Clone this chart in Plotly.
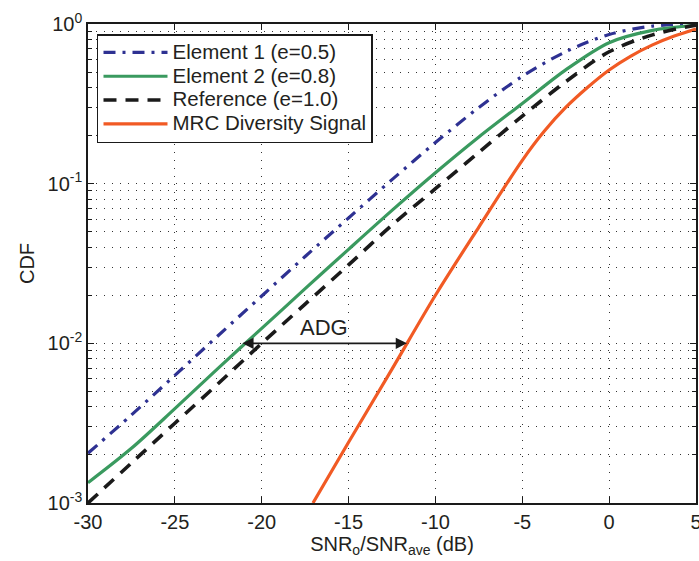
import plotly.graph_objects as go
import math

# ---- data ----
snr_db = [-30, -27.5, -25, -22.5, -20, -17.5, -15, -12.5, -10, -7.5, -5, -2.5, 0, 2.5, 5]
cdf_element1 = [0.00205, 0.00356, 0.0063, 0.0112, 0.0198, 0.035, 0.061, 0.106, 0.181, 0.30, 0.47, 0.67, 0.86, 0.97, 0.998]
cdf_element2 = [0.00134, 0.0022, 0.0039, 0.0070, 0.0124, 0.022, 0.0388, 0.068, 0.117, 0.196, 0.318, 0.516, 0.764, 0.912, 0.982]
cdf_reference = [0.0010, 0.00178, 0.00316, 0.0056, 0.0100, 0.0176, 0.031, 0.055, 0.093, 0.157, 0.265, 0.435, 0.67, 0.855, 0.985]

snr_db_mrc = [-17.05, -15, -12.5, -10, -7.5, -5, -3.75, -2.5, -1.25, 0, 1.25, 2.5, 3.75, 5]
cdf_mrc = [0.0010, 0.0024, 0.0069, 0.020, 0.0535, 0.14, 0.212, 0.30, 0.40, 0.515, 0.63, 0.74, 0.84, 0.93]

series_names = ["Element 1 (e=0.5)", "Element 2 (e=0.8)", "Reference (e=1.0)", "MRC Diversity Signal"]
x_ticks = [-30, -25, -20, -15, -10, -5, 0, 5]
y_ticks = [0.001, 0.01, 0.1, 1]
y_tick_text = ["10<sup>-3</sup>", "10<sup>-2</sup>", "10<sup>-1</sup>", "10<sup>0</sup>"]
y_minor_ticks = [m * d for d in (0.001, 0.01, 0.1) for m in range(2, 10)]

adg_level = 0.01
adg_from_db = -21.2
adg_to_db = -11.64
adg_label = "ADG"

FONT = "Liberation Sans, Arial, sans-serif"
TXT = "#231f20"


def legend_text(s):
    return '<span style="font-size:20.5px">' + s + '</span>'


fig = go.Figure()
fig.add_trace(go.Scatter(x=snr_db, y=cdf_element1, mode="lines", name=legend_text(series_names[0]),
                         line=dict(color="#2e3192", width=3.2, dash="12px,7px,3px,7px", shape="spline", smoothing=0.9)))
fig.add_trace(go.Scatter(x=snr_db, y=cdf_element2, mode="lines", name=legend_text(series_names[1]),
                         line=dict(color="#3a9a5f", width=3.2, shape="spline", smoothing=0.9)))
fig.add_trace(go.Scatter(x=snr_db, y=cdf_reference, mode="lines", name=legend_text(series_names[2]),
                         line=dict(color="#1a1a1a", width=3.6, dash="13px,9px", shape="spline", smoothing=0.9)))
fig.add_trace(go.Scatter(x=snr_db_mrc, y=cdf_mrc, mode="lines", name=legend_text(series_names[3]),
                         line=dict(color="#f15a24", width=3.2, shape="spline", smoothing=0.9)))

# ADG double arrow
fig.add_annotation(x=adg_to_db, y=math.log10(adg_level), ax=adg_from_db, ay=math.log10(adg_level),
                   xref="x", yref="y", axref="x", ayref="y", text="", showarrow=True,
                   arrowhead=2, arrowside="end+start", arrowsize=1.4, arrowwidth=1.6,
                   arrowcolor="#1a1a1a", standoff=0, startstandoff=0)
fig.add_annotation(x=(adg_from_db + adg_to_db) / 2, y=math.log10(adg_level) + 0.1, xref="x", yref="y",
                   text=adg_label, showarrow=False, yanchor="middle",
                   font=dict(family=FONT, size=22, color=TXT))

grid = dict(griddash="1px,7px", gridcolor="#333333", gridwidth=1)

fig.update_layout(
    width=699, height=561,
    margin=dict(l=88, r=3, t=24, b=58),
    plot_bgcolor="white", paper_bgcolor="white",
    font=dict(family=FONT, size=20, color=TXT),
    showlegend=True,
    legend=dict(x=0.0148, y=0.979, xanchor="left", yanchor="top",
                bgcolor="white", bordercolor="#1a1a1a", borderwidth=1.5,
                font=dict(family=FONT, size=16, color=TXT), itemwidth=64,
                tracegroupgap=0),
    xaxis=dict(range=[-30, 5], tickvals=x_ticks, ticktext=[str(v) for v in x_ticks],
               automargin=False, ticklabeloverflow="allow",
               showline=True, linecolor="#1a1a1a", linewidth=1.5, mirror="allticks",
               ticks="inside", ticklen=6, tickcolor="#1a1a1a", zeroline=False,
               showgrid=True, **grid,
               title=dict(text="SNR<sub>o</sub>/SNR<sub>ave</sub> (dB)", standoff=4,
                          font=dict(family=FONT, size=20, color=TXT)),
               tickfont=dict(family=FONT, size=20, color=TXT)),
    yaxis=dict(type="log", range=[-3, 0], tickvals=y_ticks, ticktext=y_tick_text,
               automargin=False,
               showline=True, linecolor="#1a1a1a", linewidth=1.5, mirror="allticks",
               ticks="inside", ticklen=6, tickcolor="#1a1a1a", zeroline=False,
               showgrid=True, **grid,
               minor=dict(tickmode="array", tickvals=y_minor_ticks,
                          ticks="inside", ticklen=4, tickcolor="#1a1a1a", showgrid=True,
                          griddash="1px,7px", gridcolor="#333333", gridwidth=1),
               title=dict(text="CDF", standoff=8, font=dict(family=FONT, size=20, color=TXT)),
               tickfont=dict(family=FONT, size=20, color=TXT)),
)

fig.write_html("out.html", config={"displayModeBar": False},
               post_script="document.body.style.margin='0';document.body.style.overflow='hidden';")
